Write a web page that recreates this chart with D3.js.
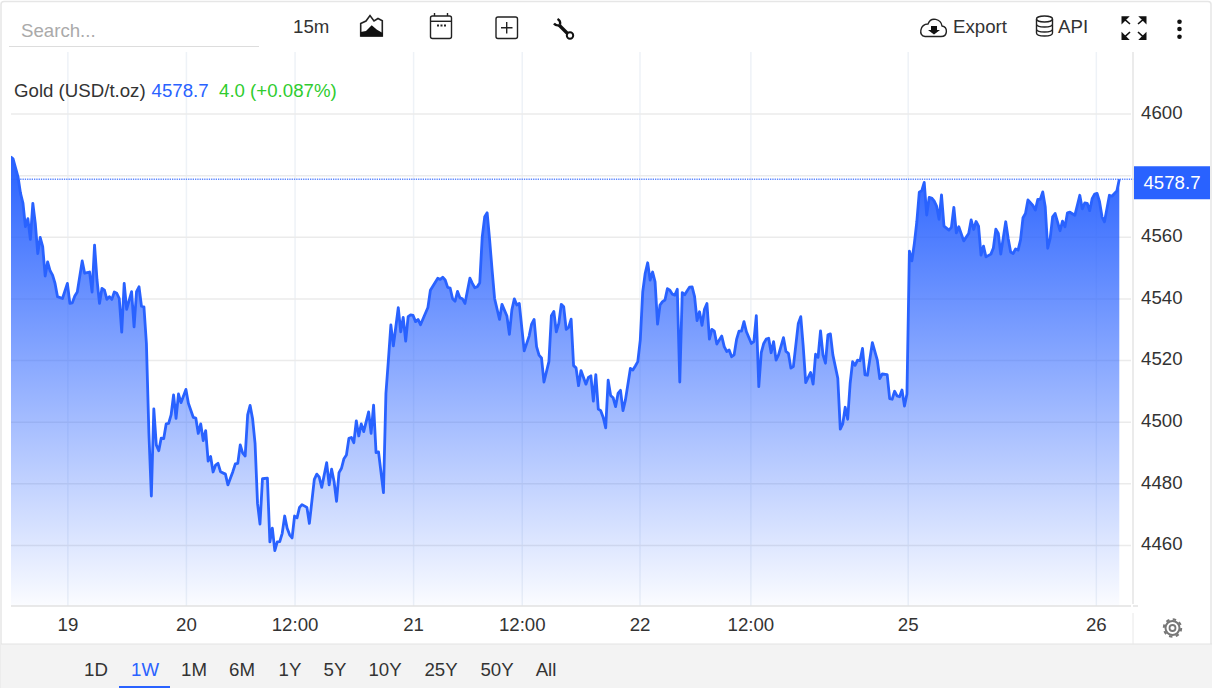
<!DOCTYPE html>
<html>
<head>
<meta charset="utf-8">
<script src="https://cdn.jsdelivr.net/npm/d3@7/dist/d3.min.js"></script>
<style>
html,body{margin:0;padding:0;background:#fff;overflow:hidden}
svg{display:block}
text{font-family:"Liberation Sans",Arial,sans-serif}
</style>
</head>
<body>
<svg id="c" width="1212" height="688"></svg>
<script>
// 15-minute bar numbers and gold prices
const bars = [0,1,3,4,5,6,7,8,9,10,11,12,13,14,15,16,17,18,19,21,23,24,25,26,27,29,30,32,33,34,35,36,37,38,39,40,41,42,43,44,45,46,47,49,50,51,52,53,54,55,56,57,58,59,60,61,62,63,64,65,66,67,68,69,71,72,74,75,76,77,78,79,80,81,82,83,84,85,87,88,90,91,92,93,94,95,96,97,98,99,100,101,102,104,105,106,107,108,109,110,111,112,113,114,115,116,117,118,120,121,123,124,125,126,128,129,130,131,132,133,134,135,136,137,138,139,140,141,142,143,145,146,147,148,149,151,152,153,154,155,157,158,159,160,161,162,163,164,165,166,169,170,173,174,175,176,177,178,179,180,181,182,183,184,186,187,188,189,190,191,192,193,194,195,196,198,199,201,202,203,204,205,206,208,210,211,212,213,214,215,216,218,219,220,221,222,223,224,225,226,227,228,229,230,231,233,234,235,236,237,238,239,240,241,242,243,244,245,246,247,248,249,251,252,253,254,255,256,257,258,259,260,261,262,263,264,265,266,267,268,269,270,271,272,273,274,275,276,277,278,279,280,281,282,283,284,285,286,288,289,290,291,292,293,294,295,296,297,298,300,301,302,303,304,305,306,307,308,309,310,311,313,314,315,316,317,319,320,321,322,324,325,326,327,328,329,330,331,332,333,335,336,337,338,339,340,341,342,343,344,345,346,347,349,351,352,353,355,356,357,358,359,360,361,362,363,364,365,366,367,368,369,370,371,372,373,374,375,376,377,378,380,381,382,383,384,386,388,389,390,391,392,393,394,395,397,398,399,400,401,403,404,405,406,407,408,409,410,411,412,414,415,416,417,418,419,420,421,422,423,425,426,427,428,429,431,433,434,435,436,437,438,439,440,441,442,443,445,446,448,449];
const prices = [4586.0,4585.3,4579.5,4574.2,4571.0,4563.3,4565.9,4559.2,4570.9,4564.4,4554.6,4559.8,4556.8,4547.3,4551.9,4549.0,4547.6,4544.9,4540.6,4540.0,4544.9,4538.4,4538.6,4540.8,4542.1,4552.2,4548.2,4548.6,4542.1,4557.3,4546.0,4538.4,4543.3,4542.7,4539.7,4540.6,4539.7,4542.1,4541.7,4540.0,4529.1,4544.9,4536.5,4542.2,4530.8,4542.2,4543.8,4537.5,4537.3,4525.4,4496.4,4475.9,4504.2,4492.5,4490.6,4494.7,4494.5,4499.3,4499.5,4502.2,4508.7,4501.1,4509.0,4506.2,4510.5,4506.0,4501.4,4501.2,4496.2,4499.3,4493.9,4497.1,4487.2,4488.7,4483.7,4485.9,4486.5,4483.8,4483.0,4479.5,4483.8,4486.3,4486.5,4492.5,4489.8,4488.9,4502.2,4505.3,4501.0,4493.0,4473.5,4466.8,4481.5,4481.7,4461.0,4465.5,4458.2,4461.0,4461.1,4463.8,4469.4,4465.4,4463.3,4462.3,4469.4,4468.8,4472.2,4473.1,4472.2,4467.0,4481.3,4483.0,4482.0,4478.7,4486.7,4479.5,4484.6,4480.6,4474.2,4483.5,4484.9,4488.0,4489.2,4494.6,4494.9,4493.2,4500.3,4495.4,4499.3,4496.8,4503.2,4496.2,4505.4,4490.0,4490.2,4477.0,4509.2,4520.0,4531.4,4524.6,4537.0,4529.2,4533.9,4526.2,4534.1,4534.7,4534.5,4532.5,4533.2,4531.5,4537.1,4542.7,4546.6,4546.2,4546.9,4546.0,4543.6,4543.4,4539.9,4539.1,4542.3,4540.2,4539.9,4538.4,4546.6,4544.9,4543.5,4543.8,4545.1,4560.0,4566.5,4567.8,4559.0,4549.2,4540.0,4533.2,4538.1,4534.3,4528.4,4536.3,4539.9,4537.9,4538.4,4523.0,4527.8,4531.7,4533.2,4524.4,4521.6,4520.7,4512.9,4519.5,4534.4,4535.8,4529.2,4531.9,4538.1,4537.3,4530.0,4530.6,4533.3,4518.2,4517.5,4511.7,4516.6,4512.2,4514.4,4514.9,4506.7,4515.3,4504.1,4503.6,4501.4,4498.0,4513.5,4508.5,4507.8,4504.9,4509.2,4510.2,4503.6,4507.1,4517.3,4516.8,4518.1,4519.5,4526.5,4542.2,4548.2,4551.6,4546.0,4548.6,4545.4,4531.7,4537.9,4539.0,4539.5,4543.2,4542.7,4541.4,4541.1,4543.0,4512.9,4541.9,4541.2,4542.5,4543.7,4543.8,4540.6,4532.8,4535.7,4531.3,4536.5,4538.4,4526.8,4530.0,4529.4,4525.2,4527.8,4524.4,4522.8,4523.3,4521.1,4521.7,4526.7,4529.4,4529.4,4532.5,4529.2,4525.4,4526.0,4534.4,4511.4,4522.4,4525.4,4526.8,4527.1,4522.4,4526.0,4520.0,4521.7,4527.3,4522.8,4522.2,4517.4,4517.9,4531.9,4534.1,4524.4,4512.7,4516.0,4512.2,4521.9,4520.9,4529.5,4521.7,4519.0,4528.2,4528.5,4521.7,4514.1,4497.6,4499.3,4504.7,4500.8,4512.5,4519.5,4518.3,4520.0,4519.8,4523.8,4515.2,4515.1,4525.7,4520.0,4514.0,4515.5,4515.3,4507.5,4507.3,4509.9,4508.4,4508.1,4510.3,4505.1,4509.0,4555.4,4552.2,4557.9,4564.9,4574.5,4575.0,4577.7,4567.1,4572.8,4572.6,4571.7,4570.0,4565.7,4573.6,4563.5,4562.2,4563.1,4569.6,4561.3,4563.3,4558.7,4561.1,4565.5,4562.4,4565.0,4563.5,4554.1,4557.0,4553.5,4554.4,4556.4,4562.5,4561.1,4554.4,4564.9,4559.5,4555.1,4554.6,4556.1,4555.7,4559.0,4566.2,4567.6,4572.0,4570.2,4568.7,4572.2,4572.2,4574.6,4569.8,4556.3,4559.5,4566.5,4567.6,4562.0,4565.1,4563.3,4567.8,4568.0,4567.0,4573.5,4569.1,4571.0,4570.9,4568.5,4572.4,4573.9,4574.1,4571.4,4566.5,4564.9,4573.5,4573.2,4574.9,4578.7];
const yTicks = [4460,4480,4500,4520,4540,4560,4580,4600];
const yLabels = ["4460","4480","4500","4520","4540","4560","","4600"];
const xTickBars = [23,71,115,163,207,254.7,299.6,363.3,439.5];
const xTickLabels = ["19","20","12:00","21","12:00","22","12:00","25","26"];
const ranges = ["1D","1W","1M","6M","1Y","5Y","10Y","25Y","50Y","All"];
const activeRange = "1W";
const lastPrice = 4578.7;
const title = "Gold (USD/t.oz)";
const changeText = "4.0 (+0.087%)";

const BLUE = "#2962ff";
const FS = 18.67;
const svg = d3.select("#c");
const x = d3.scaleLinear().domain([0,449]).range([10.6,1119.3]);
const y = d3.scaleLinear().domain([4440.2,4620]).range([606,52]);
const points = bars.map((b,i)=>[b,prices[i]]);

const defs = svg.append("defs");
const grad = defs.append("linearGradient").attr("id","fill").attr("gradientUnits","userSpaceOnUse")
  .attr("x1",0).attr("x2",0).attr("y1",y(d3.max(prices))).attr("y2",606);
grad.append("stop").attr("offset",0).attr("stop-color",BLUE).attr("stop-opacity",1);
grad.append("stop").attr("offset",1).attr("stop-color",BLUE).attr("stop-opacity",0.02);
defs.append("clipPath").attr("id","plot").append("rect").attr("x",11).attr("y",52).attr("width",1122).attr("height",554);

// frame and bottom bar
svg.append("rect").attr("x",1).attr("y",1.5).attr("width",1210).attr("height",690).attr("rx",3).attr("fill","#fff").attr("stroke","#e6e6e6").attr("stroke-width",1.5);
svg.append("rect").attr("x",1).attr("y",644).attr("width",1211).attr("height",44).attr("fill","#f3f3f3");
svg.append("line").attr("x1",1).attr("x2",1212).attr("y1",644).attr("y2",644).attr("stroke","#e3e3e3").attr("stroke-width",1);

// grid
const gridV = svg.append("g").attr("transform","translate(0,52)")
  .call(d3.axisBottom(x).tickValues(xTickBars).tickSize(554).tickFormat(""));
gridV.select(".domain").remove();
gridV.selectAll("line").attr("stroke","#eef2f7").attr("stroke-width",1.5);
const gridH = svg.append("g").attr("transform","translate(11,0)")
  .call(d3.axisRight(y).tickValues(yTicks).tickSize(1120).tickFormat(""));
gridH.select(".domain").remove();
gridH.selectAll("line").attr("stroke","#ebebeb").attr("stroke-width",1.5);

// last price line
svg.append("line").attr("x1",11).attr("x2",1134).attr("y1",y(lastPrice)).attr("y2",y(lastPrice))
  .attr("stroke","#5d88ff").attr("stroke-width",1.4).attr("stroke-dasharray","1.3 1");

// area + line
const g = svg.append("g").attr("clip-path","url(#plot)");
g.append("path").datum(points).attr("fill","url(#fill)")
  .attr("d",d3.area().x(d=>x(d[0])).y0(606).y1(d=>y(d[1])));
g.append("path").datum(points).attr("fill","none").attr("stroke",BLUE).attr("stroke-width",2.8).attr("stroke-linejoin","round")
  .attr("d",d3.line().x(d=>x(d[0])).y(d=>y(d[1])));

// axis lines
svg.append("line").attr("x1",11).attr("x2",1131).attr("y1",606).attr("y2",606).attr("stroke","#e2e2e2").attr("stroke-width",1.5);
svg.append("line").attr("x1",1133).attr("x2",1138).attr("y1",606).attr("y2",606).attr("stroke","#e2e2e2").attr("stroke-width",1.5);
svg.append("line").attr("x1",1133).attr("x2",1133).attr("y1",52).attr("y2",604).attr("stroke","#e4e4e4").attr("stroke-width",1.5);
svg.append("line").attr("x1",1133).attr("x2",1133).attr("y1",613).attr("y2",644).attr("stroke","#e8e8e8").attr("stroke-width",1);

// axes labels
const yAxis = svg.append("g").attr("transform","translate(1141,-1.3)")
  .call(d3.axisRight(y).tickValues(yTicks).tickSize(0).tickPadding(0).tickFormat((d,i)=>yLabels[i]));
yAxis.select(".domain").remove();
yAxis.selectAll("text").attr("font-size",FS).attr("fill","#333").attr("font-family","Liberation Sans");
const xAxis = svg.append("g").attr("transform","translate(0,606)")
  .call(d3.axisBottom(x).tickValues(xTickBars).tickSize(0).tickPadding(11.7).tickFormat((d,i)=>xTickLabels[i]));
xAxis.select(".domain").remove();
xAxis.selectAll("text").attr("font-size",FS).attr("fill","#333").attr("font-family","Liberation Sans");

// price tag
svg.append("rect").attr("x",1134).attr("y",y(lastPrice)-13).attr("width",76).attr("height",33).attr("fill",BLUE);
svg.append("text").attr("x",1172).attr("y",189).attr("text-anchor","middle").attr("font-size",FS).attr("fill","#fff").text(lastPrice.toFixed(1));

// title
const T = (xp,yp,s,col,size,anchor)=>svg.append("text").attr("x",xp).attr("y",yp).attr("fill",col).attr("font-size",size||FS).attr("text-anchor",anchor||"start").text(s);
T(14,96.5,title,"#333");
T(151.5,96.5,String(lastPrice),BLUE);
T(219,96.5,changeText,"#2fcc2f");

// toolbar
T(21,36.5,"Search...","#aaa");
svg.append("line").attr("x1",9).attr("x2",259).attr("y1",46.5).attr("y2",46.5).attr("stroke","#ddd");
T(293,33,"15m","#333");
T(953,33,"Export","#333");
T(1058,33,"API","#333");

const ic = svg.append("g").attr("fill","none").attr("stroke","#222").attr("stroke-width",1.4);
// mountain chart
ic.append("path").attr("d","M360.7 23.5 L366 21 L370 15.5 L374 21 L378 18.5 L382.3 20.7 L382.3 36 L360.7 36 Z").attr("stroke-width",1.6);
ic.append("path").attr("d","M360.5 36.5 L360.5 32 L366 31 L371.7 25.3 L377 29.7 L382.7 33 L382.7 36.5 Z").attr("fill","#111").attr("stroke","none");
// calendar
ic.append("rect").attr("x",430.5).attr("y",16).attr("width",21).attr("height",22.5).attr("rx",2);
ic.append("line").attr("x1",430.5).attr("x2",451.5).attr("y1",21.3).attr("y2",21.3);
ic.append("line").attr("x1",434.5).attr("x2",434.5).attr("y1",13).attr("y2",16);
ic.append("line").attr("x1",447.5).attr("x2",447.5).attr("y1",13).attr("y2",16);
ic.append("path").attr("d","M437 25.5h2M440.5 25.5h2M444 25.5h2").attr("stroke-width",1.8);
// plus box
ic.append("rect").attr("x",496).attr("y",17).attr("width",21.5).attr("height",21.5).attr("rx",2);
ic.append("path").attr("d","M506.7 22v11.5M501 27.7h11.5");
// wrench
ic.append("path").attr("d","M559 25 L568 34").attr("stroke-width",3.4).attr("stroke","#111");
ic.append("path").attr("d","M554 23.5 A4.8 4.8 0 0 0 559.5 25 M557.5 19 A5 5 0 0 1 560 24.5").attr("stroke-width",2.4).attr("stroke","#111");
ic.append("circle").attr("cx",570).attr("cy",35.5).attr("r",3.2).attr("stroke-width",2).attr("stroke","#111").attr("fill","#fff");
// cloud
ic.append("path").attr("d","M925 36.5 H941 C948 36.5 948 27 942 26 C941 19 931 16 928 24 C920 24 918 36 925 36.5 Z").attr("stroke-width",1.4);
ic.append("path").attr("d","M931 26 H937 V30 H940 L934 34.5 L928 30 H931 Z").attr("fill","#111").attr("stroke","none");
// database
ic.append("ellipse").attr("cx",1044.5).attr("cy",19).attr("rx",8).attr("ry",3);
ic.append("path").attr("d","M1036.5 19 V33 C1036.5 37 1052.5 37 1052.5 33 V19 M1036.5 24 C1036.5 28 1052.5 28 1052.5 24 M1036.5 29 C1036.5 33 1052.5 33 1052.5 29");
// fullscreen arrows
const arrows = svg.append("g").attr("fill","#111").attr("stroke","#111");
arrows.append("path").attr("d","M1122.3 17 h5.5 l-5.5 5.5z M1125 19.7 L1130 24").attr("stroke-width",1.6);
arrows.append("path").attr("d","M1145.7 17 h-5.5 l5.5 5.5z M1143 19.7 L1138 24").attr("stroke-width",1.6);
arrows.append("path").attr("d","M1122.3 39.3 h5.5 l-5.5 -5.5z M1125 36.6 L1130 32").attr("stroke-width",1.6);
arrows.append("path").attr("d","M1145.7 39.3 h-5.5 l5.5 -5.5z M1143 36.6 L1138 32").attr("stroke-width",1.6);
// dots
[21.7,29,36.7].forEach(d=>svg.append("circle").attr("cx",1179.5).attr("cy",d).attr("r",2.3).attr("fill","#111"));
// gear
const gear = svg.append("g").attr("fill","none").attr("stroke","#777");
gear.append("circle").attr("cx",1172.5).attr("cy",628).attr("r",7).attr("stroke-width",2);
gear.append("circle").attr("cx",1172.5).attr("cy",628).attr("r",3).attr("stroke-width",1.8);
gear.append("circle").attr("cx",1172.5).attr("cy",628).attr("r",8.7).attr("stroke-width",2).attr("stroke-dasharray","3.4 3.43");

// range selector
const rangeCentres = [96,145,194,242,290,335,385,441,497,546];
svg.append("g").selectAll("text").data(ranges).join("text")
  .attr("x",(d,i)=>rangeCentres[i]).attr("y",676).attr("text-anchor","middle").attr("font-size",FS)
  .attr("fill",d=>d===activeRange?BLUE:"#333").text(d=>d);
svg.append("rect").attr("x",119).attr("y",686).attr("width",51).attr("height",2).attr("fill",BLUE);
</script>
</body>
</html>
